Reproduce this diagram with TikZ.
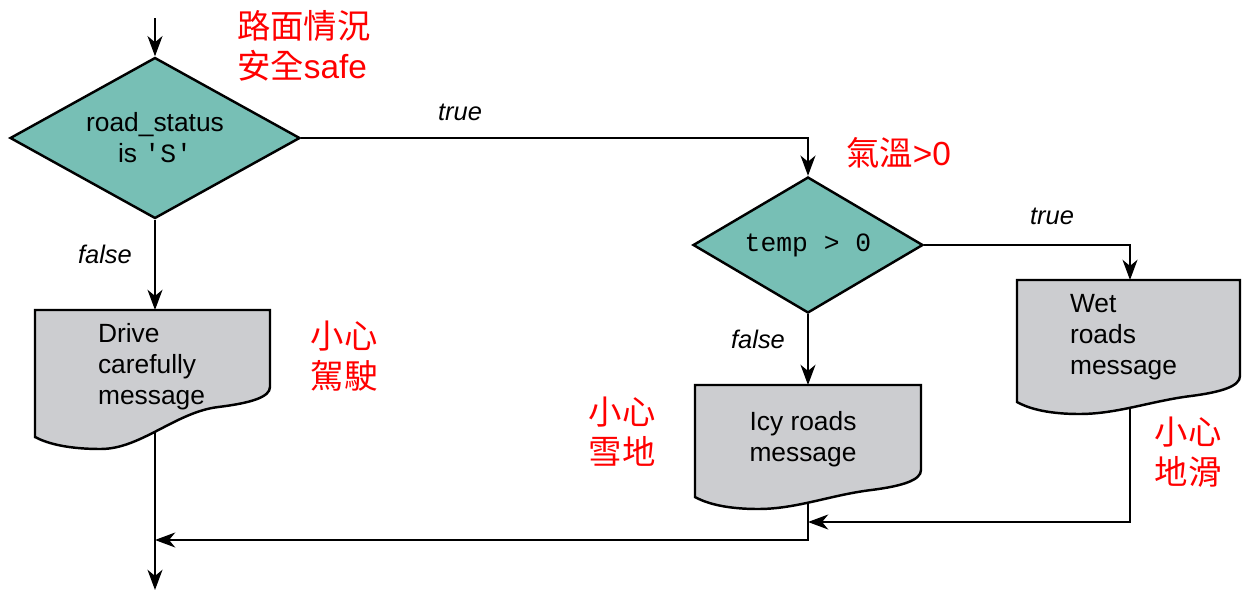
\documentclass[tikz,border=0pt]{standalone}
\usepackage{fontspec}
\setmainfont{Liberation Sans}
\setmonofont{Liberation Mono}
\newfontfamily\cjk{Noto Sans CJK TC}
\usetikzlibrary{shapes.geometric,arrows.meta,positioning}

\definecolor{tealfill}{RGB}{119,191,181}
\definecolor{docgray}{RGB}{204,205,208}

% document box: left, top, right, right-end drop, left-end drop
\newcommand{\docbox}[5]{%
  \draw[docshape] (#1,#2) -- (#3,#2) -- (#3,{#2+#4})
    .. controls (#3,{#2+#4+10}) and ({#3-0.08*(#3-#1)},{#2+#4+16}) .. ({#3-0.22*(#3-#1)},{#2+#4+20})
    .. controls ({#3-0.4*(#3-#1)},{#2+#4+25}) and ({#1+0.45*(#3-#1)},{#2+#5+12}) .. ({#1+0.28*(#3-#1)},{#2+#5+12})
    .. controls ({#1+0.12*(#3-#1)},{#2+#5+12}) and ({#1+0.04*(#3-#1)},{#2+#5+5}) .. (#1,{#2+#5}) -- cycle;}

\begin{document}
\begin{tikzpicture}[x=0.02cm,y=-0.02cm,line width=1.2pt,
  >={Stealth[length=11.5pt,width=8.5pt,inset=3.5pt]},
  decision/.style={diamond,aspect=2,draw,line width=1.4pt,fill=tealfill,inner sep=0pt,align=center,
    font=\fontsize{15}{17.6}\selectfont},
  docshape/.style={draw,line width=1.4pt,fill=docgray},
  msg/.style={align=left,inner sep=0pt,font=\fontsize{15}{17.6}\selectfont},
  branch/.style={inner sep=0pt,font=\itshape\fontsize{14.5}{17}\selectfont},
  note/.style={text=red,align=left,inner sep=0pt,font=\cjk\fontsize{19}{22.8}\selectfont}]
\useasboundingbox (0,0) rectangle (1242,592);

% decisions
\node[decision,minimum width=5.8cm,minimum height=3.22cm] (cond1) at (155,138)
  {road\_status\\is \texttt{\char39 S\char39}};
\node[decision,minimum width=4.6cm,minimum height=2.72cm] (cond2) at (808,245)
  {\texttt{temp > 0}};

% connector ends
\coordinate (start) at (155,18);
\coordinate (drive-in) at (155,310);
\coordinate (drive-out) at (155,425);
\coordinate (icy-in) at (808,385);
\coordinate (icy-out) at (808,480);
\coordinate (wet-in) at (1130,280);
\coordinate (wet-out) at (1130,395);
\coordinate (join1) at (808,522);
\coordinate (join2) at (155,540);
\coordinate (end) at (155,590);

\draw[->] (start) -- (cond1.north);
\draw[->] (cond1.south) -- (drive-in);
\draw[->] (cond1.east) -| (cond2.north);
\draw[->] (cond2.east) -| (wet-in);
\draw[->] (cond2.south) -- (icy-in);
\draw[->] (drive-out) -- (end);
\draw[->] (wet-out) |- (join1);
\draw[->] (icy-out) |- (join2);

% message boxes
\docbox{35}{310}{270}{77}{127}
\docbox{695}{385}{921}{85}{112}
\docbox{1017}{280}{1240}{96}{122}

\node[msg,anchor=west] (drive) at (97,367) {Drive\\carefully\\message};
\node[msg,align=center] (icy) at (803,439) {Icy roads\\message};
\node[msg,anchor=west] (wet) at (1069,337) {Wet\\roads\\message};

% branch labels
\node[branch] (true1) at (460,112) {true};
\node[branch] (true2) at (1052,216) {true};
\node[branch] (false1) at (105,254) {false};
\node[branch] (false2) at (758,339) {false};

% notes
\node[note,anchor=west] (road) at (236,46) {路面情況\\安全{\rmfamily safe}};
\node[note,anchor=west] (temp) at (845,153) {氣溫{\rmfamily >0}};
\node[note] (careful) at (344,356) {小心\\駕駛};
\node[note] (snow) at (622,432) {小心\\雪地};
\node[note] (slip) at (1188,452) {小心\\地滑};
\end{tikzpicture}
\end{document}
